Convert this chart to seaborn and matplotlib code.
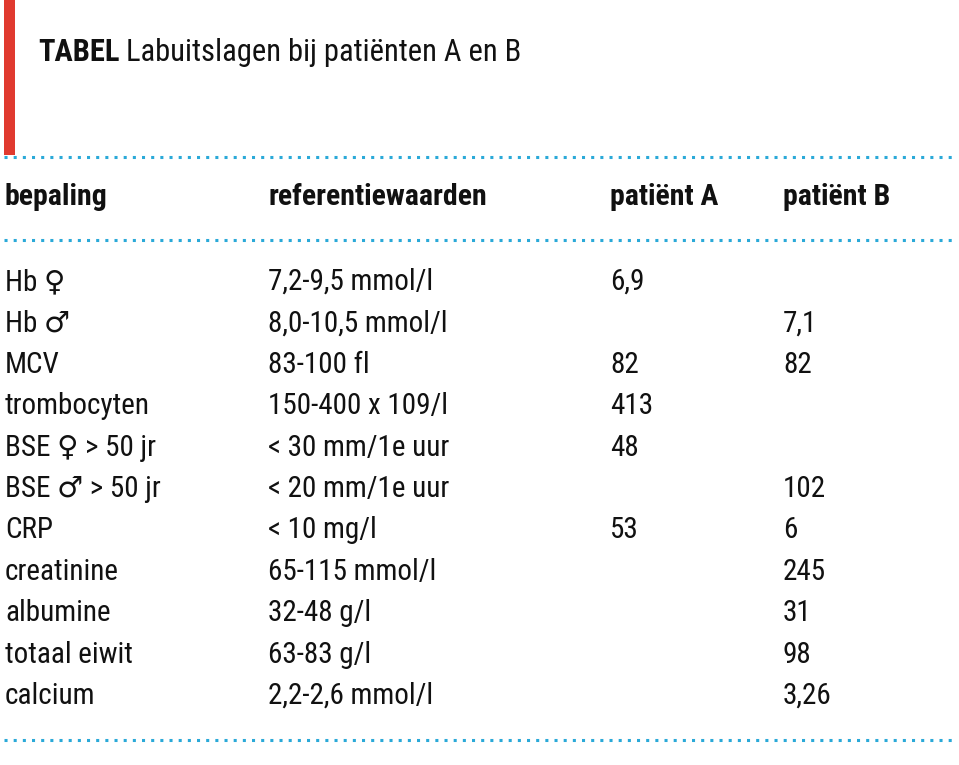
import matplotlib
matplotlib.use("Agg")
import matplotlib.pyplot as plt
import seaborn as sns

title_bold = "TABEL"
title_rest = "Labuitslagen bij patiënten A en B"
headers = ["bepaling", "referentiewaarden", "patiënt A", "patiënt B"]
bepaling = ["Hb ♀", "Hb ♂", "MCV", "trombocyten", "BSE ♀ > 50 jr", "BSE ♂ > 50 jr",
            "CRP", "creatinine", "albumine", "totaal eiwit", "calcium"]
referentie = ["7,2-9,5 mmol/l", "8,0-10,5 mmol/l", "83-100 fl", "150-400 x 109/l",
              "< 30 mm/1e uur", "< 20 mm/1e uur", "< 10 mg/l", "65-115 mmol/l",
              "32-48 g/l", "63-83 g/l", "2,2-2,6 mmol/l"]
patient_a = ["6,9", "", "82", "413", "48", "", "53", "", "", "", ""]
patient_b = ["", "7,1", "82", "", "", "102", "6", "245", "31", "98", "3,26"]

sns.set_theme(style="white")
fam = ["Liberation Sans Narrow", "Roboto Condensed", "DejaVu Sans"]
fig = plt.figure(figsize=(9.59, 7.65), dpi=100)
ax = fig.add_axes([0, 0, 1, 1])
ax.set_xlim(0, 959); ax.set_ylim(765, 0); ax.axis("off")

ax.fill_between([4, 15], 0, 155, color="#e03a2f", lw=0)
t = ax.text(38, 52, title_bold, fontsize=22, fontweight="bold", family=fam, va="center", color="#111")
fig.canvas.draw()
bb = t.get_window_extent().transformed(ax.transData.inverted())
ax.text(bb.x1 + 6, 52, title_rest, fontsize=22, family=fam, va="center", color="#111")

for y in [157, 240, 740]:
    ax.plot([4, 955], [y, y], ls=(0, (1, 2)), color="#2aa9d8", lw=2.2)

cols = [5, 268, 610, 783]
for x, h in zip(cols, headers):
    ax.text(x, 197, h, fontsize=21.5, fontweight="bold", family=fam, va="center", color="#111")

for i in range(len(bepaling)):
    y = 282 + i * 41.4
    for x, v in zip(cols, [bepaling[i], referentie[i], patient_a[i], patient_b[i]]):
        if v:
            ax.text(x, y, v, fontsize=21, family=fam, va="center", color="#111")

fig.savefig("out.png", dpi=100, facecolor="white")
